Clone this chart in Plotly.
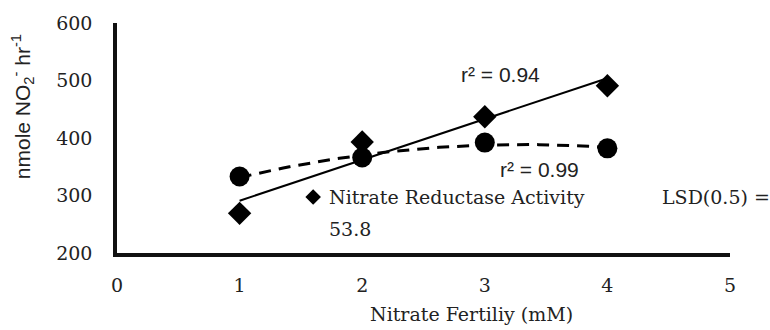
import numpy as np
import plotly.graph_objects as go

# Nitrate fertility levels (mM)
fertility = [1, 2, 3, 4]
# Nitrate reductase activity, nmole NO2- hr-1
nra_diamond = [269, 393, 437, 491]
nra_circle = [333, 366, 392, 382]

x_ticks = [0, 1, 2, 3, 4, 5]
y_ticks = [200, 300, 400, 500, 600]

serif = "DejaVu Serif"
sans = "Liberation Sans"

# Trendlines: linear for the diamond series, quadratic for the circle series
lin = np.polyfit(fertility, nra_diamond, 1)
quad = np.polyfit(fertility, nra_circle, 2)
xs = np.linspace(min(fertility), max(fertility), 60)

fig = go.Figure()
fig.add_trace(go.Scatter(x=xs, y=np.polyval(lin, xs), mode="lines",
                         line=dict(color="black", width=2), hoverinfo="skip"))
fig.add_trace(go.Scatter(x=xs, y=np.polyval(quad, xs), mode="lines",
                         line=dict(color="black", width=3, dash="12px,8px"),
                         hoverinfo="skip"))
fig.add_trace(go.Scatter(x=fertility, y=nra_diamond, mode="markers",
                         marker=dict(symbol="diamond", size=18, color="black")))
fig.add_trace(go.Scatter(x=fertility, y=nra_circle, mode="markers",
                         marker=dict(symbol="circle", size=20, color="black")))
# legend-style key marker
fig.add_trace(go.Scatter(x=[1.6], y=[297.5], mode="markers",
                         marker=dict(symbol="diamond", size=12, color="black")))

ann = [
    dict(x=1.71, y=297, text="Nitrate Reductase Activity", xanchor="left",
         font=dict(family=serif, size=19)),
    dict(x=1.71, y=242, text="53.8", xanchor="left",
         font=dict(family=serif, size=19)),
    dict(x=4.43, y=297, text="LSD(0.5) =", xanchor="left",
         font=dict(family=serif, size=19)),
    dict(x=2.79, y=511, text="r² = 0.94", xanchor="left",
         font=dict(family=sans, size=21)),
    dict(x=3.11, y=346, text="r² = 0.99", xanchor="left",
         font=dict(family=sans, size=21)),
    dict(x=2.89, y=-0.265, yref="paper", text="Nitrate Fertiliy (mM)",
         font=dict(family=serif, size=19)),
    dict(x=-0.153, xref="paper", y=0.635, yref="paper", textangle=-90,
         xanchor="center",
         text="nmole NO<sub>2</sub><sup>-</sup> hr<sup>-1</sup>",
         font=dict(family=sans, size=21)),
]
for a in ann:
    a.setdefault("xref", "x")
    a.setdefault("yref", "y")
    a.update(showarrow=False, yanchor="middle")
    a["font"]["color"] = "#222"

fig.update_layout(
    width=770, height=330,
    margin=dict(l=117, r=40, t=15, b=77),
    plot_bgcolor="white", paper_bgcolor="white",
    showlegend=False,
    annotations=ann,
    xaxis=dict(range=[0, 5], tickvals=x_ticks, showgrid=False, zeroline=False,
               showline=True, linecolor="#111", linewidth=3.5,
               ticks="", ticklabelstandoff=12,
               tickfont=dict(family=serif, size=19, color="#222")),
    yaxis=dict(range=[200, 600], tickvals=y_ticks, showgrid=False, zeroline=False,
               showline=True, linecolor="#111", linewidth=3.5,
               ticks="", ticklabelstandoff=17,
               tickfont=dict(family=serif, size=19, color="#222")),
)

fig.write_html("out.html")
